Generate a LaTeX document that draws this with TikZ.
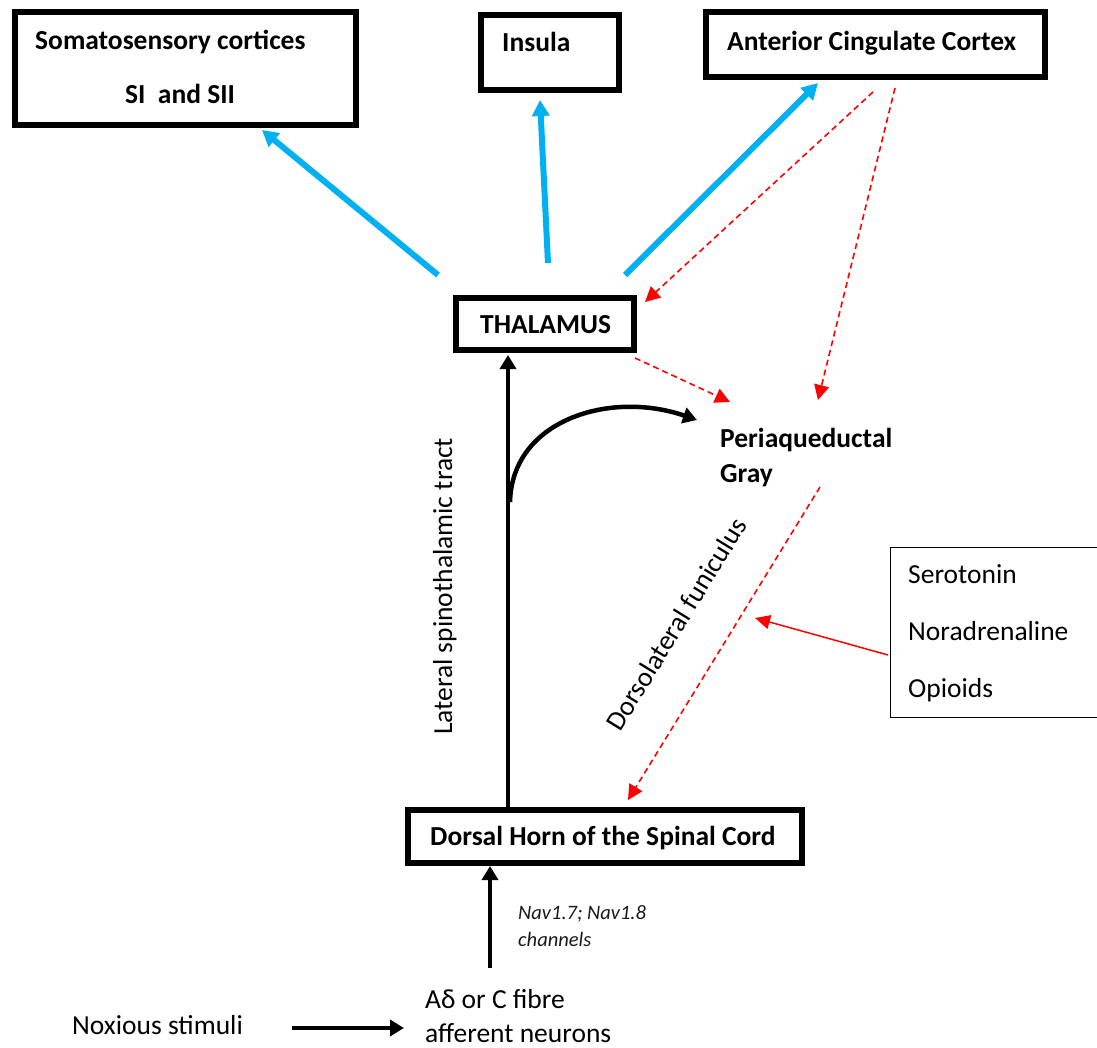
\documentclass[tikz,border=0pt]{standalone}
\usepackage{fontspec}
\setmainfont{Carlito}
\usetikzlibrary{arrows.meta,calc}
\definecolor{cyanb}{RGB}{0,176,240}
\definecolor{navgray}{RGB}{25,25,25}
\newcommand\szA{\fontsize{27.5pt}{35pt}\selectfont}
\newcommand\szB{\fontsize{20.5pt}{26pt}\selectfont}
\begin{document}
\begin{tikzpicture}[x=1pt,y=-1pt,
  thickbox/.style={draw, line width=6pt, inner sep=0pt},
  thinbox/.style={draw, line width=1.3pt, inner sep=0pt},
  boldlbl/.style={inner sep=0pt, anchor=base west, font=\szA\bfseries},
  lbl/.style={inner sep=0pt, anchor=base west, font=\szA},
  navlbl/.style={inner sep=0pt, anchor=base west, font=\szB\itshape, text=navgray},
  bluearr/.style={draw=cyanb, line width=6pt, -{Triangle[length=16pt,width=17pt]}},
  blackarr/.style={draw=black, line width=4.5pt, -{Triangle[length=14pt,width=16pt]}},
  reddash/.style={draw=red, line width=1.6pt, dash pattern=on 6pt off 4pt, -{Triangle[length=15pt,width=15pt]}},
  redsolid/.style={draw=red, line width=1.5pt, -{Triangle[length=15pt,width=14pt]}}
]
\useasboundingbox (0,0) rectangle (1097,1048);

% boxes
\node[thickbox, minimum width=341pt, minimum height=113pt] (soma) at (185.5,68.5) {};
\node[thickbox, minimum width=138pt, minimum height=75pt] (insula) at (550,52.5) {};
\node[thickbox, minimum width=339pt, minimum height=65pt] (acc) at (875.5,44.5) {};
\node[thickbox, minimum width=178pt, minimum height=52pt] (thal) at (545,324) {};
\node[thickbox, minimum width=394pt, minimum height=53pt] (dh) at (605,836.5) {};
\node[thinbox, minimum width=211pt, minimum height=170pt, anchor=north west] (neuro) at (889.5,547) {};

% texts
\node[boldlbl] (somaA) at (35,50) {Somatosensory cortices};
\node[boldlbl] (somaB) at (125,104) {SI\ \ and SII};
\node[boldlbl] (insulaT) at (502,52) {Insula};
\node[boldlbl] (accT) at (727,51) {Anterior Cingulate Cortex};
\node[boldlbl] (thalT) at (480,334) {THALAMUS};
\node[boldlbl] (dhT) at (430,845) {Dorsal Horn of the Spinal Cord};
\node[boldlbl] (pagA) at (720,447) {Periaqueductal};
\node[boldlbl] (pagB) at (720,482) {Gray};
\node[lbl] (sero) at (908,583) {Serotonin};
\node[lbl] (nora) at (908,640) {Noradrenaline};
\node[lbl] (opi) at (908,697) {Opioids};
\node[lbl, rotate=90] (lst) at (452,735) {Lateral spinothalamic tract};
\node[inner sep=0pt, font=\szA, rotate=58.5] (dlf) at (676,624) {Dorsolateral funiculus};
\node[navlbl] (navA) at (518,919) {Nav1.7; Nav1.8};
\node[navlbl] (navB) at (518,946) {channels};
\node[lbl] (affA) at (425,1008) {Aδ or C fibre};
\node[lbl] (affB) at (425,1042) {afferent neurons};
\node[lbl] (nox) at (72,1034) {Noxious stimuli};

% coordinates
\coordinate (b1s) at (438,275);  \coordinate (b1e) at (262,130);
\coordinate (b2s) at (548,263);  \coordinate (b2e) at (540,100);
\coordinate (b3s) at (625,275);  \coordinate (b3e) at (818,83);
\coordinate (v1) at (508,0);
\coordinate (v2) at (490,0);
\coordinate (affTop) at (490,968);
\coordinate (noxS) at (292,1028); \coordinate (noxE) at (404,1028);
\coordinate (cs) at (510,502);   \coordinate (ce) at (697,420);
\coordinate (r1s) at (873,92);   \coordinate (r1e) at (645,302);
\coordinate (r2s) at (895,88);   \coordinate (r2e) at (818,400);
\coordinate (r3s) at (635,358);  \coordinate (r3e) at (730,402);
\coordinate (r4s) at (820,487);  \coordinate (r4e) at (628,800);
\coordinate (r5s) at (888,655);  \coordinate (r5e) at (755,618);

% blue arrows
\draw[bluearr] (b1s) -- (b1e);
\draw[bluearr] (b2s) -- (b2e);
\draw[bluearr] (b3s) -- (b3e);

% black arrows
\draw[blackarr] (dh.north -| v1) -- (508,355);
\draw[blackarr] (affTop) -- (dh.south -| v2);
\draw[blackarr] (noxS) -- (noxE);
\draw[blackarr] (cs) .. controls (512,420) and (610,390) .. (ce);

% red arrows
\draw[reddash] (r1s) -- (r1e);
\draw[reddash] (r2s) -- (r2e);
\draw[reddash] (r3s) -- (r3e);
\draw[reddash] (r4s) -- (r4e);
\draw[redsolid] (r5s) -- (r5e);
\end{tikzpicture}
\end{document}
